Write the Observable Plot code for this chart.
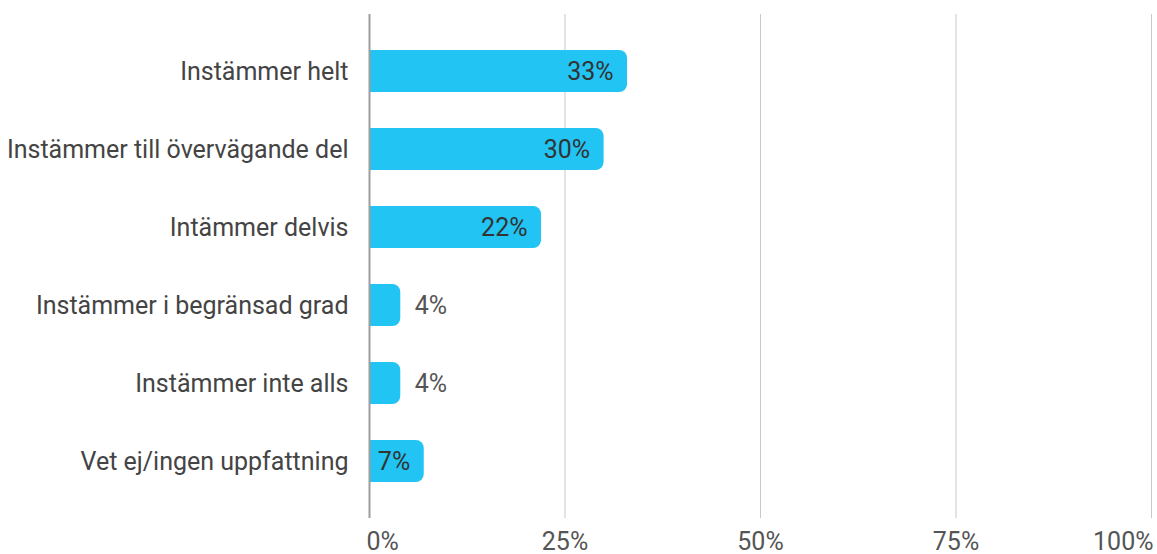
<!DOCTYPE html>
<html>
<head>
<meta charset="utf-8">
<script src="https://cdn.jsdelivr.net/npm/d3@7"></script>
<script src="https://cdn.jsdelivr.net/npm/@observablehq/plot@0.6"></script>
<style>
  html, body { margin: 0; padding: 0; background: #fff; }
</style>
</head>
<body>
<div id="chart"></div>
<script>
const categories = [
  "Instämmer helt",
  "Instämmer till övervägande del",
  "Intämmer delvis",
  "Instämmer i begränsad grad",
  "Instämmer inte alls",
  "Vet ej/ingen uppfattning"
];
const values = [33, 30, 22, 4, 4, 7];
const xTicks = [0, 25, 50, 75, 100];

const data = categories.map((c, i) => ({cat: c, value: values[i]}));
const barColor = "#21c4f3";
const fmt = d => d + "%";
const fs = 25;

const chart = Plot.plot({
  width: 1157,
  height: 554,
  marginLeft: 369,
  marginRight: 6,
  marginTop: 14,
  marginBottom: 36,
  style: {fontFamily: "Roboto", fontSize: fs + "px", color: "#444", background: "#fff"},
  x: {domain: [0, 100], axis: null},
  y: {domain: categories, padding: 0.46, label: null},
  marks: [
    Plot.ruleX(xTicks.slice(1), {stroke: "#c8c8c8", strokeWidth: 1}),
    Plot.barX(data, {x: "value", y: "cat", fill: barColor, rx: 8}),
    Plot.barX(data, {x1: 0, x2: d => d.value / 2, y: "cat", fill: barColor}),
    Plot.ruleX([0], {stroke: "#9e9e9e", strokeWidth: 2}),
    Plot.text(data.filter(d => d.value >= 5), {x: "value", y: "cat", text: d => fmt(d.value), textAnchor: "end", dx: -14, fill: "#333", fontSize: fs}),
    Plot.text(data.filter(d => d.value < 5), {x: "value", y: "cat", text: d => fmt(d.value), textAnchor: "start", dx: 14, fill: "#555", fontSize: fs}),
    Plot.axisY({tickSize: 0, tickPadding: 21, fontSize: fs, fill: "#444", label: null}),
    Plot.text(xTicks.slice(0, 1), {x: d => d, text: fmt, frameAnchor: "bottom", lineAnchor: "top", dy: 14, dx: -3, textAnchor: "start", fill: "#555", fontSize: fs}),
    Plot.text(xTicks.slice(1, -1), {x: d => d, text: fmt, frameAnchor: "bottom", lineAnchor: "top", dy: 14, textAnchor: "middle", fill: "#555", fontSize: fs}),
    Plot.text(xTicks.slice(-1), {x: d => d, text: fmt, frameAnchor: "bottom", lineAnchor: "top", dy: 14, dx: 2, textAnchor: "end", fill: "#555", fontSize: fs})
  ]
});
document.getElementById("chart").appendChild(chart);
</script>
</body>
</html>
